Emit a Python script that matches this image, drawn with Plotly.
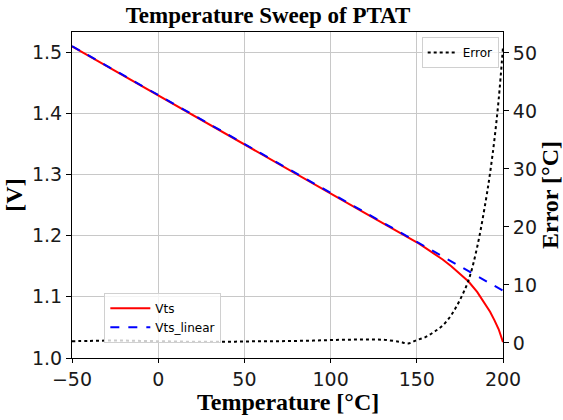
import plotly.graph_objects as go

temperature = [-50, -40, -30, -20, -10, 0, 10, 20, 30, 40, 50, 60, 70, 80, 90, 100,
               110, 120, 130, 140, 145, 150, 155, 160, 165, 170, 175, 180, 185, 190, 192.5,
               195, 197.5, 200]
vts_linear = [1.510, 1.494, 1.478, 1.462, 1.446, 1.430, 1.414, 1.398, 1.382, 1.366, 1.350,
              1.334, 1.318, 1.302, 1.286, 1.270, 1.254, 1.238, 1.222, 1.206, 1.198, 1.190,
              1.182, 1.174, 1.166, 1.158, 1.150, 1.142, 1.134, 1.126, 1.122, 1.118, 1.114,
              1.110]
vts = [1.5095, 1.4934, 1.4774, 1.4614, 1.4454, 1.4295, 1.4136, 1.3977, 1.3817, 1.3657, 1.3496,
       1.3335, 1.3175, 1.3014, 1.2854, 1.2692, 1.2531, 1.2370, 1.2211, 1.2057, 1.1982, 1.1892,
       1.1800, 1.1710, 1.1610, 1.1500, 1.1380, 1.1250, 1.1080, 1.0870, 1.0756, 1.0620, 1.0470,
       1.0260]
error = [0.30, 0.35, 0.40, 0.40, 0.35, 0.30, 0.25, 0.20, 0.20, 0.20, 0.25, 0.30, 0.30, 0.35,
         0.40, 0.50, 0.55, 0.60, 0.55, 0.20, -0.10, 0.50, 1.0, 1.9, 3.0, 4.8, 7.4, 10.8,
         16.5, 24.5, 29.3, 35.0, 42.0, 51.0]

tick_font = dict(family="DejaVu Sans", size=19, color="#1a1a1a")
title_font = dict(family="Liberation Serif", size=24, color="black")

fig = go.Figure()
fig.add_trace(go.Scatter(x=temperature, y=vts, name="Vts", mode="lines",
                         line=dict(color="red", width=2), legend="legend"))
fig.add_trace(go.Scatter(x=temperature, y=vts_linear, name="Vts_linear", mode="lines",
                         line=dict(color="blue", width=2, dash="dash"), legend="legend"))
fig.add_trace(go.Scatter(x=temperature, y=error, name="Error", mode="lines", yaxis="y2",
                         line=dict(color="black", width=2, dash="dot", shape="spline"),
                         legend="legend2"))

fig.update_layout(
    width=563, height=420,
    margin=dict(l=72, r=60, t=32, b=62, autoexpand=False),
    paper_bgcolor="white", plot_bgcolor="white",
    title=dict(text="<b>Temperature Sweep of PTAT</b>", x=0.476, xanchor="center",
               y=0.965, yanchor="middle",
               font=dict(family="Liberation Serif", size=23, color="black")),
    xaxis=dict(range=[-50, 200], dtick=50, tick0=-50, showgrid=True, gridcolor="#c8c8c8",
               gridwidth=1, ticks="outside", ticklen=4, tickcolor="black",
               showline=True, linecolor="black", linewidth=1, mirror=True,
               tickfont=tick_font, zeroline=False, automargin=False),
    yaxis=dict(range=[1.0, 1.533], dtick=0.1, tick0=1.0, tickformat=".1f", showgrid=True,
               gridcolor="#c8c8c8", gridwidth=1, ticks="outside", ticklen=5,
               tickcolor="black", showline=True, linecolor="black", linewidth=1,
               mirror=True, tickfont=tick_font, zeroline=False, automargin=False,
               title=dict(text="<b>[V]</b>", font=title_font, standoff=2)),
    yaxis2=dict(range=[-2.6, 53.6], dtick=10, tick0=0, overlaying="y", side="right",
                showgrid=False, ticks="outside", ticklen=5, tickcolor="black",
                showline=False, tickfont=tick_font, zeroline=False, automargin=False,
                title=dict(text="<b>Error [°C]</b>", font=title_font, standoff=2)),
    annotations=[dict(text="<b>Temperature [°C]</b>", xref="paper", yref="paper",
                      x=0.5, y=-0.136, xanchor="center", yanchor="middle",
                      showarrow=False, font=title_font)],
    legend=dict(x=0.075, y=0.2, xanchor="left", yanchor="top",
                bgcolor="rgba(255,255,255,0.8)", bordercolor="#d0d0d0", borderwidth=1,
                font=dict(family="DejaVu Sans", size=12, color="black"),
                tracegroupgap=0, itemwidth=40),
    legend2=dict(x=0.99, y=0.985, xanchor="right", yanchor="top",
                 bgcolor="rgba(255,255,255,0.8)", bordercolor="#d0d0d0", borderwidth=1,
                 font=dict(family="DejaVu Sans", size=12, color="black"), itemwidth=30),
    showlegend=True,
)

fig.write_html("out.html")
